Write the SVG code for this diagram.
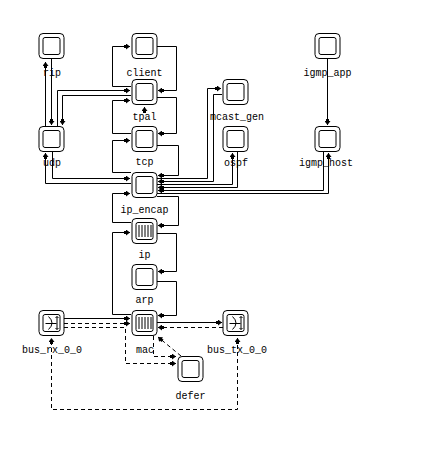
<svg xmlns="http://www.w3.org/2000/svg" width="425" height="467" viewBox="0 0 425 467">
<style>
.ob{fill:#fff;stroke:#000;stroke-width:1}
.ib{fill:#fff;stroke:#000;stroke-width:1}
.st{stroke:#000;stroke-width:1;fill:none}
.c{fill:none;stroke:#000;stroke-width:1;marker-end:url(#a)}
.d{fill:none;stroke:#000;stroke-width:1;stroke-dasharray:4,3;marker-end:url(#a)}
text{font-family:"Liberation Mono","DejaVu Sans Mono",monospace;font-size:10px;fill:#000;text-anchor:middle}
</style>
<defs>
<marker id="a" viewBox="0 0 6 6" markerWidth="6" markerHeight="6" refX="6" refY="3" orient="auto" markerUnits="userSpaceOnUse">
<path d="M0,1.5 H2 V0 L6,3 L2,6 V4.5 H0 Z" fill="#000"/>
</marker>
<marker id="as" viewBox="0 0 6 6" markerWidth="6" markerHeight="6" refX="6" refY="3" orient="auto-start-reverse" markerUnits="userSpaceOnUse">
<path d="M0,1.5 H2 V0 L6,3 L2,6 V4.5 H0 Z" fill="#000"/>
</marker>
<g id="plain">
<rect class="ob" x="-12.5" y="-12.5" width="25" height="25" rx="4"/>
<rect class="ib" x="-8.5" y="-8.5" width="17" height="17" rx="2"/>
</g>
<g id="queue">
<rect class="ob" x="-12.5" y="-12.5" width="25" height="25" rx="4"/>
<rect class="ib" x="-8.5" y="-8.5" width="17" height="17" rx="2"/>
<path class="st" d="M-5.5,-6 V6 M-2.5,-6 V6 M0.5,-6 V6 M3.5,-6 V6 M6.5,-6 V6"/>
</g>
<g id="bus">
<rect class="ob" x="-12.5" y="-12.5" width="25" height="25" rx="4"/>
<rect class="ib" x="-8.5" y="-8.5" width="17" height="17" rx="2"/>
<path class="st" d="M-3,-6.5 Q4,0 -3,6.5 M-6,0.5 H5 M5.5,-6.5 V6.5 M4,-5 L5.5,-6.5 L7,-5 M4,5 L5.5,6.5 L7,5"/>
</g>
</defs>

<g id="connectors">
<path class="c" d="M157,46.5 H176.5 V90.5 H158"/>
<path class="c" d="M131,86.5 H112.5 V46.5 H130"/>
<path class="c" d="M57.5,126 V90.5 H130"/>
<path class="c" d="M131,95.5 H62.5 V125"/>
<path class="c" d="M51.5,59 V125"/>
<path class="c" d="M45.5,126 V62"/>
<path class="c" d="M157,97.5 H176.5 V133.5 H158"/>
<path class="c" d="M131,133.5 H112.5 V100.5 H130"/>
<path class="c" d="M157,145.5 H178.5 V175.5 H158"/>
<path class="c" d="M131,172.5 H112.5 V140.5 H130"/>
<path class="c" d="M52.5,152 V178.5 H130"/>
<path class="c" d="M131,183.5 H45.5 V153"/>
<path class="c" d="M157,178.5 H207.5 V88.5 H221"/>
<path class="c" d="M222,94.5 H213.5 V181.5 H158"/>
<path class="c" d="M157,184.5 H232.5 V153"/>
<path class="c" d="M237.5,152 V187.5 H158"/>
<path class="c" d="M323.5,152 V190.5 H158"/>
<path class="c" d="M157,193.5 H328.5 V153"/>
<path class="c" d="M157,196.5 H178.5 V225.5 H158"/>
<path class="c" d="M131,222.5 H112.5 V193.5 H130"/>
<path class="c" d="M157,233.5 H176.5 V271.5 H158"/>
<path class="c" d="M157,281.5 H176.5 V315.5 H158"/>
<path class="c" d="M131,314.5 H112.5 V232.5 H130"/>
<path class="c" d="M64,318.5 H130"/>
<path class="d" d="M64,323.5 H130"/>
<path class="d" d="M64,327.5 H125.5 V363.5 H176"/>
<path class="c" d="M157,322.5 H222"/>
<path class="d" d="M223,327.5 H158"/>
<path class="d" d="M153.5,336 V356.5 H176"/>
<path class="d" d="M181,356 L158,337"/>
<path class="d" style="marker-start:url(#as);marker-end:url(#as)" d="M237.5,338 V409.5 H51.5 V338"/>
<path class="c" d="M327.5,59 V125"/>
<path class="c" d="M144.5,111 V107"/>
</g>

<g id="rip"><use href="#plain" x="51.5" y="46"/><text x="52" y="76">rip</text></g>
<g id="client"><use href="#plain" x="144.5" y="46"/><text x="144.5" y="76">client</text></g>
<g id="igmp_app"><use href="#plain" x="327.5" y="46"/><text x="327.5" y="76">igmp_app</text></g>
<g id="tpal"><use href="#plain" x="144.5" y="92"/><text x="144.5" y="120">tpal</text></g>
<g id="mcast_gen"><use href="#plain" x="235.5" y="92"/><text x="237" y="120">mcast_gen</text></g>
<g id="udp"><use href="#plain" x="51.5" y="139"/><text x="52" y="166">udp</text></g>
<g id="tcp"><use href="#plain" x="144.5" y="139"/><text x="144.5" y="165">tcp</text></g>
<g id="ospf"><use href="#plain" x="235.5" y="139"/><text x="236" y="166">ospf</text></g>
<g id="igmp_host"><use href="#plain" x="327.5" y="139"/><text x="326" y="166">igmp_host</text></g>
<g id="ip_encap"><use href="#plain" x="144.5" y="185"/><text x="144.5" y="213">ip_encap</text></g>
<g id="ip"><use href="#queue" x="144.5" y="231"/><text x="144.5" y="258">ip</text></g>
<g id="arp"><use href="#plain" x="144.5" y="277"/><text x="144.5" y="303">arp</text></g>
<g id="mac"><use href="#queue" x="144.5" y="323"/><text x="145" y="353">mac</text></g>
<g id="bus_rx_0_0"><use href="#bus" x="51.5" y="323"/><text x="52" y="353">bus_rx_0_0</text></g>
<g id="bus_tx_0_0"><use href="#bus" x="235.5" y="323"/><text x="237" y="353">bus_tx_0_0</text></g>
<g id="defer"><use href="#plain" x="190.5" y="369"/><text x="190.5" y="399">defer</text></g>
</svg>
